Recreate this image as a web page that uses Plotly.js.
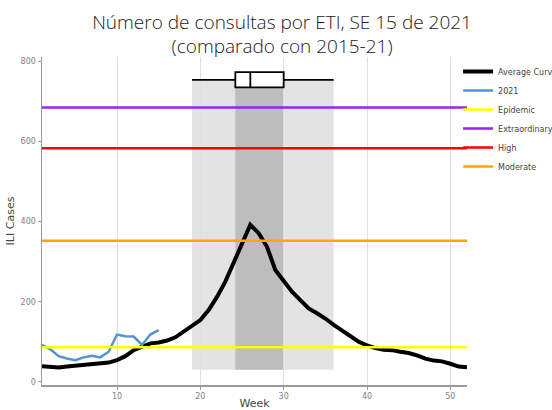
<!DOCTYPE html>
<html>
<head>
<meta charset="utf-8">
<script src="https://cdn.plot.ly/plotly-3.0.1.min.js"></script>
<style>html,body{margin:0;padding:0;background:#fff;overflow:hidden;}#chart{width:552px;height:410px;}</style>
</head>
<body>
<div id="chart"></div>
<script>
// ---- data ----
var weeks = [1,2,3,4,5,6,7,8,9,10,11,12,13,14,15,16,17,18,19,20,21,22,23,24,25,26,27,28,29,30,31,32,33,34,35,36,37,38,39,40,41,42,43,44,45,46,47,48,49,50,51,52];
var averageCurve = [39,37,36,38,40,42,44,46,48,54,64,79,88,96,98,103,111,125,139,154,179,212,250,296,346,392,371,337,279,250,225,204,183,171,158,142,127,113,100,91,84,80,79,75,72,66,58,53,51,45,38,36];
var weeks2021 = [1,2,3,4,5,6,7,8,9,10,11,12,13,14,15];
var cases2021 = [92,81,64,58,54,61,65,61,75,118,114,113,92,118,129];
var thresholdNames = ["Epidemic","Extraordinary","High","Moderate"];
var thresholdValues = [86,685,583,352];
var thresholdColors = ["#ffff00","#a020f0","#ff0000","#ffa500"];
// peak-week box (min, q1, median, q3, max) of 2015-21 seasons
var peakStats = {min:[19], q1:[24.2], median:[26], q3:[30], max:[36]};
var peakBoxY = [754];
var bandBottom = 30;

var traces = [];
traces.push({x: weeks, y: averageCurve, type:'scatter', mode:'lines', name:'Average Curve',
  line:{color:'#000000', width:4}});
traces.push({x: weeks2021, y: cases2021, type:'scatter', mode:'lines', name:'2021',
  line:{color:'#4f94d4', width:2.5}});
for (var i=0;i<thresholdNames.length;i++){
  traces.push({x:[weeks[0], weeks[weeks.length-1]], y:[thresholdValues[i], thresholdValues[i]],
    type:'scatter', mode:'lines', name:thresholdNames[i],
    line:{color:thresholdColors[i], width:2.5}});
}
traces.push({type:'box', orientation:'h', y:peakBoxY, lowerfence:peakStats.min, q1:peakStats.q1,
  median:peakStats.median, q3:peakStats.q3, upperfence:peakStats.max, width:38,
  fillcolor:'#ffffff', line:{color:'#000000', width:1.8}, whiskerwidth:0, showlegend:false, hoverinfo:'skip'});

var shapes = [
  {type:'rect', xref:'x', yref:'y', x0:peakStats.min[0], x1:peakStats.max[0], y0:bandBottom, y1:peakBoxY[0],
   fillcolor:'#e3e3e3', line:{width:0}, layer:'below'},
  {type:'rect', xref:'x', yref:'y', x0:peakStats.q1[0], x1:peakStats.q3[0], y0:bandBottom, y1:peakBoxY[0],
   fillcolor:'#bdbdbd', line:{width:0}, layer:'below'}
];

var tickFont = {family:'DejaVu Sans, Verdana, sans-serif', size:8, color:'#7f7f7f'};
var layout = {
  width:552, height:410,
  margin:{l:42, r:85, t:57, b:25, autoexpand:false},
  paper_bgcolor:'#ffffff', plot_bgcolor:'#ffffff',
  title:{text:'Número de consultas por ETI, SE 15 de 2021<br>(comparado con 2015-21)',
    font:{family:'Open Sans, sans-serif', size:19, color:'#1a1a1a', weight:300},
    x:0.511, xanchor:'center', y:0.93, yanchor:'top'},
  xaxis:{range:[1,52], tickvals:[10,20,30,40,50], showgrid:true, gridcolor:'#e0e0e0', gridwidth:1,
    zeroline:false, showline:true, linecolor:'#9a9a9a', linewidth:1.5, ticks:'outside', ticklen:3,
    tickcolor:'#9a9a9a', tickfont:tickFont, automargin:true,
    title:{text:'Week', font:{family:'DejaVu Sans, Verdana, sans-serif', size:11, color:'#444'}, standoff:6}},
  yaxis:{range:[-8,811], tickvals:[0,200,400,600,800], showgrid:false, zeroline:false, showline:true,
    linecolor:'#9a9a9a', linewidth:1.5, ticks:'outside', ticklen:3, tickcolor:'#9a9a9a', tickfont:tickFont, automargin:true,
    title:{text:'ILI Cases', font:{family:'DejaVu Sans, Verdana, sans-serif', size:11, color:'#444'}, standoff:4}},
  legend:{x:0.979, xanchor:'left', y:1, yanchor:'top', bgcolor:'rgba(0,0,0,0)',
    font:{family:'DejaVu Sans, Verdana, sans-serif', size:8, color:'#444'},
    tracegroupgap:0, itemwidth:30},
  shapes:shapes,
  showlegend:true
};
Plotly.newPlot('chart', traces, layout, {displayModeBar:false, staticPlot:true});
</script>
</body>
</html>
